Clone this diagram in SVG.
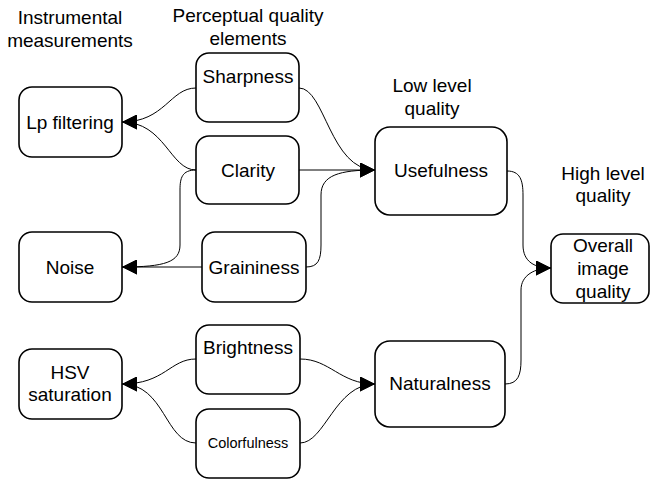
<svg xmlns="http://www.w3.org/2000/svg" width="650" height="483" viewBox="0 0 650 483">
<style>
.box{fill:#fff;stroke:#000;stroke-width:1.6}
text{font-family:"Liberation Sans",Arial,sans-serif;font-size:19px;fill:#000;text-anchor:middle}
.sm{font-size:14.5px}
.c{fill:none;stroke:#000;stroke-width:1}
</style>
<defs>
<marker id="ah" markerWidth="15" markerHeight="15" viewBox="0 0 15 15" refX="15" refY="7.5" orient="auto" markerUnits="userSpaceOnUse">
<path d="M0,0 L15,7.5 L0,15 Z" fill="#000"/>
</marker>
</defs>
<rect width="650" height="483" fill="#fff"/>
<g id="labels">
<text x="70" y="24">Instrumental</text>
<text x="70" y="47">measurements</text>
<text x="248" y="22">Perceptual quality</text>
<text x="248" y="45">elements</text>
<text x="432" y="92">Low level</text>
<text x="432" y="115">quality</text>
<text x="603" y="180">High level</text>
<text x="603" y="202">quality</text>
</g>
<g id="connectors">
<path class="c" d="M196,88 C170,88 165,122 122,122" marker-end="url(#ah)"/>
<path class="c" d="M196,170 C170,170 165,122 122,122" marker-end="url(#ah)"/>
<path class="c" d="M196,170 C182,170 180,178 180,190 L180,245 C180,262 165,267 122,267" marker-end="url(#ah)"/>
<path class="c" d="M202,267 L122,267" marker-end="url(#ah)"/>
<path class="c" d="M299,88 C325,88 330,170 375,170" marker-end="url(#ah)"/>
<path class="c" d="M299,170 L375,170" marker-end="url(#ah)"/>
<path class="c" d="M306,267 C318,267 321,260 321,245 L321,195 C321,175 340,170 375,170" marker-end="url(#ah)"/>
<path class="c" d="M196,359 C170,359 165,384 122,384" marker-end="url(#ah)"/>
<path class="c" d="M196,443 C165,443 165,384 122,384" marker-end="url(#ah)"/>
<path class="c" d="M300,359 C330,359 340,384 375,384" marker-end="url(#ah)"/>
<path class="c" d="M300,443 C325,443 335,384 375,384" marker-end="url(#ah)"/>
<path class="c" d="M507,171 C520,171 523,180 523,195 L523,245 C523,262 535,268 551,268" marker-end="url(#ah)"/>
<path class="c" d="M505,384 C518,384 521,375 521,360 L521,290 C521,275 535,268 551,268" marker-end="url(#ah)"/>
</g>
<g id="lp"><rect class="box" x="19" y="87" width="103" height="70" rx="13"/><text x="70" y="129">Lp filtering</text></g>
<g id="noise"><rect class="box" x="19" y="232" width="103" height="70" rx="13"/><text x="70" y="274">Noise</text></g>
<g id="hsv"><rect class="box" x="19" y="349" width="103" height="70" rx="13"/><text x="70" y="379">HSV</text><text x="70" y="401">saturation</text></g>
<g id="sharpness"><rect class="box" x="196" y="53" width="103" height="69" rx="13"/><text x="248" y="83">Sharpness</text></g>
<g id="clarity"><rect class="box" x="196" y="136" width="103" height="68" rx="13"/><text x="248" y="177">Clarity</text></g>
<g id="graininess"><rect class="box" x="202" y="232" width="104" height="70" rx="13"/><text x="254" y="274">Graininess</text></g>
<g id="brightness"><rect class="box" x="196" y="325" width="104" height="69" rx="13"/><text x="248" y="354">Brightness</text></g>
<g id="colorfulness"><rect class="box" x="196" y="409" width="104" height="69" rx="13"/><text class="sm" x="248" y="448">Colorfulness</text></g>
<g id="usefulness"><rect class="box" x="375" y="127" width="132" height="88" rx="15"/><text x="441" y="177">Usefulness</text></g>
<g id="naturalness"><rect class="box" x="375" y="341" width="130" height="86" rx="15"/><text x="440" y="390">Naturalness</text></g>
<g id="overall"><rect class="box" x="551" y="234" width="98" height="69" rx="12"/><text x="603" y="252">Overall</text><text x="603" y="275">image</text><text x="603" y="298">quality</text></g>
</svg>
